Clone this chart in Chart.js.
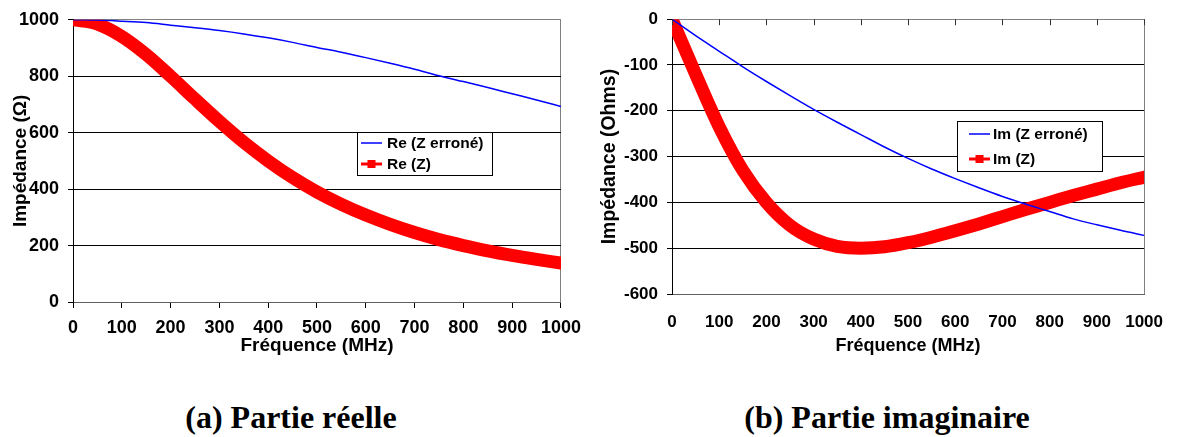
<!DOCTYPE html>
<html>
<head>
<meta charset="utf-8">
<script src="https://cdn.jsdelivr.net/npm/chart.js@4"></script>
<style>
  body { margin: 0; background: #fff; width: 1181px; height: 437px; position: relative; overflow: hidden; }
  .panel { position: absolute; top: 0; height: 370px; }
  .caption { position: absolute; top: 401px; font: bold 32px "Liberation Serif", "Times New Roman", serif; line-height: 32px; text-align: center; color: #000; }
</style>
</head>
<body>
<div class="panel" style="left:0;width:590px"><canvas id="reChart"></canvas></div>
<div class="panel" style="left:590px;width:591px"><canvas id="imChart"></canvas></div>
<div class="caption" style="left:0;width:582px">(a) Partie réelle</div>
<div class="caption" style="left:590px;width:594px">(b) Partie imaginaire</div>

<script>
// frequency points (MHz)
const freq = [0, 50, 100, 150, 200, 250, 300, 350, 400, 450, 500,
  550, 600, 650, 700, 750, 800, 850, 900, 950, 1000];

// real part
const reWrong = [1000, 999, 995, 990, 981, 972, 962, 950, 936, 920, 902,
  885, 866, 846, 825, 802, 781, 760, 738, 716, 693];
const reZ = [1000, 985, 941, 877, 800, 719, 640, 566, 500, 441, 390,
  346, 308, 275, 246, 221, 200, 181, 165, 151, 138];

// imaginary part
const imWrong = [0, -36, -70, -104, -136, -167, -197, -225, -252, -279, -304,
  -327, -348, -368, -387, -404, -420, -436, -449, -461, -472];
const imZ = [0, -120, -235, -330, -400, -450, -480, -496, -500, -497, -488,
  -476, -462, -447, -431, -415, -400, -385, -371, -357, -345];

const toPoints = (ys) => ys.map((y, i) => ({ x: freq[i], y: y }));

const fontFamily = '"Liberation Sans", Arial, sans-serif';
const boldFont = (size) => ({ family: fontFamily, size: size, weight: 'bold' });

// legend drawn as a framed box inside the plot, like the original
const boxLegend = {
  id: 'boxLegend',
  afterDraw(chart, args, opts) {
    const ctx = chart.ctx;
    ctx.save();
    ctx.fillStyle = '#fff';
    ctx.fillRect(opts.x, opts.y, opts.w, opts.h);
    ctx.strokeStyle = '#000';
    ctx.lineWidth = 1;
    ctx.strokeRect(opts.x + 0.5, opts.y + 0.5, opts.w, opts.h);
    ctx.font = 'bold 15.5px ' + fontFamily;
    ctx.textBaseline = 'middle';
    chart.data.datasets.forEach((ds, i) => {
      const ly = opts.y + opts.rows[i];
      const x0 = opts.x + opts.sample[0];
      const x1 = opts.x + opts.sample[1];
      ctx.strokeStyle = ds.borderColor;
      ctx.lineWidth = ds.borderWidth > 3 ? 3 : 1.5;
      ctx.beginPath();
      ctx.moveTo(x0, ly);
      ctx.lineTo(x1, ly);
      ctx.stroke();
      if (ds.borderWidth > 3) {
        ctx.fillStyle = ds.borderColor;
        ctx.fillRect((x0 + x1) / 2 - 4, ly - 4, 8, 8);
      }
      ctx.fillStyle = '#000';
      ctx.fillText(ds.label, opts.x + opts.text, ly + 1);
    });
    ctx.restore();
  }
};

// tick marks on the top edge (x axis crossing at 0 on the imaginary chart)
const topTicks = {
  id: 'topTicks',
  afterDraw(chart, args, opts) {
    if (!opts.enabled) return;
    const ctx = chart.ctx;
    const xs = chart.scales.x;
    const top = chart.chartArea.top;
    ctx.save();
    ctx.strokeStyle = '#333';
    ctx.lineWidth = 1;
    xs.ticks.forEach((t) => {
      const px = Math.round(xs.getPixelForValue(t.value)) + 0.5;
      ctx.beginPath();
      ctx.moveTo(px, top);
      ctx.lineTo(px, top + 6);
      ctx.stroke();
    });
    ctx.restore();
  }
};

const makeOptions = (cfg) => ({
  responsive: true,
  maintainAspectRatio: false,
  animation: false,
  layout: { padding: { left: cfg.padLeft, right: cfg.padRight, top: cfg.padTop, bottom: 13 } },
  plugins: {
    legend: { display: false },
    tooltip: { enabled: false },
    boxLegend: cfg.legend,
    topTicks: { enabled: cfg.topTicks },
  },
  scales: {
    x: {
      type: 'linear',
      min: 0,
      max: 1000,
      ticks: {
        stepSize: 100, color: '#000', font: boldFont(cfg.tickSize), padding: cfg.xPad,
        maxRotation: 0, autoSkip: false, callback: (v) => v,
      },
      grid: {
        drawOnChartArea: true,
        color: (c) => (c.tick && c.tick.value === 1000 ? '#808080' : 'rgba(0,0,0,0)'),
        tickColor: '#000',
        tickLength: 6,
        drawTicks: !cfg.topTicks,
      },
      border: { color: '#606060', width: 1 },
      title: { display: true, text: 'Fréquence (MHz)', color: '#000', font: boldFont(cfg.xTitleSize), padding: 0 },
      afterFit: (s) => { s.height = cfg.xHeight; },
    },
    y: {
      type: 'linear',
      min: cfg.yMin,
      max: cfg.yMax,
      ticks: { stepSize: cfg.yStep, color: '#000', font: boldFont(cfg.tickSize), padding: 9, callback: (v) => v },
      grid: {
        color: (c) => {
          if (!c.tick) return '#000';
          if (c.tick.value === cfg.yMax || c.tick.value === cfg.yMin) return '#808080';
          return '#000';
        },
        tickColor: '#000',
        tickLength: 5,
      },
      border: { color: '#000', width: 1 },
      title: { display: true, text: cfg.yTitle, color: '#000', font: boldFont(cfg.yTitleSize), padding: 0 },
      afterFit: (s) => { s.width = cfg.yWidth; },
    },
  },
});

const lineDataset = (label, ys, color, width) => ({
  label: label,
  data: toPoints(ys),
  borderColor: color,
  backgroundColor: color,
  borderWidth: width,
  pointRadius: 0,
  cubicInterpolationMode: 'monotone',
  borderCapStyle: width > 3 ? 'square' : 'butt',
  fill: false,
});

new Chart(document.getElementById('reChart'), {
  type: 'line',
  data: {
    datasets: [
      lineDataset('Re (Z erroné)', reWrong, '#0000ff', 1.5),
      lineDataset('Re (Z)', reZ, '#ff0000', 13),
    ],
  },
  options: makeOptions({
    padLeft: 9, padRight: 26, padTop: 15,
    yWidth: 64, xHeight: 55, xPad: 9,
    yMin: 0, yMax: 1000, yStep: 200,
    yTitle: 'Impédance (Ω)',
    tickSize: 18, xTitleSize: 19, yTitleSize: 19,
    topTicks: false,
    legend: { x: 357, y: 132, w: 135, h: 43, rows: [11, 32], sample: [4, 25], text: 30 },
  }),
  plugins: [boxLegend, topTicks],
});

new Chart(document.getElementById('imChart'), {
  type: 'line',
  data: {
    datasets: [
      lineDataset('Im (Z erroné)', imWrong, '#0000ff', 1.5),
      lineDataset('Im (Z)', imZ, '#ff0000', 13),
    ],
  },
  options: makeOptions({
    padLeft: 8, padRight: 28, padTop: 16,
    yWidth: 74, xHeight: 63, xPad: 18,
    yMin: -600, yMax: 0, yStep: 100,
    yTitle: 'Impédance (Ohms)',
    tickSize: 17, xTitleSize: 18, yTitleSize: 19.5,
    topTicks: true,
    legend: { x: 367, y: 121, w: 145, h: 50, rows: [13, 38], sample: [12, 33], text: 36 },
  }),
  plugins: [boxLegend, topTicks],
});
</script>
</body>
</html>
